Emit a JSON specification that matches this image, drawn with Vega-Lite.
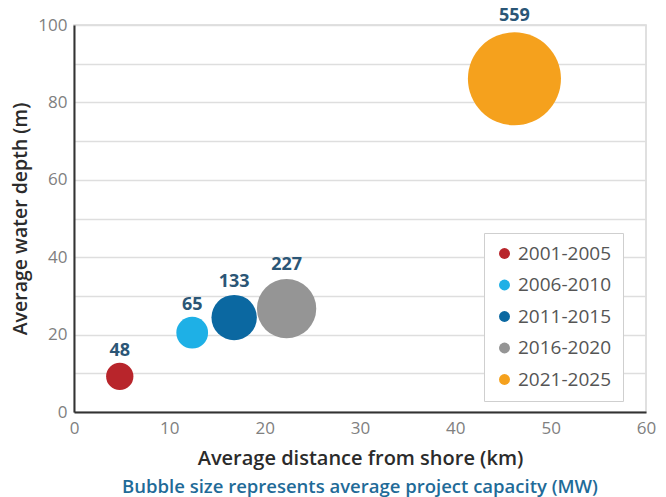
{
  "$schema": "https://vega.github.io/schema/vega-lite/v6.json",
  "width": 572,
  "height": 387,
  "autosize": {"type": "none"},
  "padding": {"left": 74, "top": 25, "right": 20, "bottom": 85},
  "background": "white",
  "config": {
    "font": "Open Sans",
    "view": {"stroke": "#d6d6d6", "strokeWidth": 1.5}
  },
  "title": {
    "text": "Bubble size represents average project capacity (MW)",
    "orient": "bottom",
    "anchor": "middle",
    "color": "#1f6b98",
    "fontSize": 18.5,
    "fontWeight": 600,
    "offset": 10
  },
  "data": {
    "values": [
      {"period": "2001-2005", "distance": 4.8, "depth": 9.2, "capacity": 48},
      {"period": "2006-2010", "distance": 12.4, "depth": 20.5, "capacity": 65},
      {"period": "2011-2015", "distance": 16.8, "depth": 24.4, "capacity": 133},
      {"period": "2016-2020", "distance": 22.3, "depth": 26.7, "capacity": 227},
      {"period": "2021-2025", "distance": 46.2, "depth": 86.1, "capacity": 559}
    ]
  },
  "encoding": {
    "x": {
      "field": "distance",
      "type": "quantitative",
      "scale": {"domain": [0, 60], "nice": false},
      "axis": {
        "values": [0, 10, 20, 30, 40, 50, 60],
        "title": "Average distance from shore (km)",
        "grid": false,
        "ticks": false,
        "labelFlush": false,
        "domainColor": "#333333",
        "domainWidth": 2,
        "labelFontSize": 17,
        "labelColor": "#808080",
        "labelPadding": 8,
        "titleFontSize": 20,
        "titleFontWeight": 600,
        "titleColor": "#2b2b2b",
        "titlePadding": 12
      }
    },
    "y": {
      "field": "depth",
      "type": "quantitative",
      "scale": {"domain": [0, 100], "nice": false},
      "axis": {
        "values": [0, 10, 20, 30, 40, 50, 60, 70, 80, 90, 100],
        "labelExpr": "datum.value % 20 == 0 ? datum.label : ''",
        "title": "Average water depth (m)",
        "grid": true,
        "gridColor": "#dedede",
        "gridWidth": 1.5,
        "ticks": false,
        "domainColor": "#333333",
        "domainWidth": 2,
        "labelFontSize": 17,
        "labelColor": "#808080",
        "labelPadding": 7,
        "titleFontSize": 19.5,
        "titleFontWeight": 600,
        "titleColor": "#2b2b2b",
        "titlePadding": 7
      }
    }
  },
  "layer": [
    {
      "mark": {"type": "circle", "opacity": 1},
      "encoding": {
        "size": {
          "field": "capacity",
          "type": "quantitative",
          "scale": {"domain": [0, 559], "range": [0, 8660], "zero": true},
          "legend": null
        },
        "color": {
          "field": "period",
          "type": "nominal",
          "scale": {
            "domain": ["2001-2005", "2006-2010", "2011-2015", "2016-2020", "2021-2025"],
            "range": ["#b8252b", "#1eb0e6", "#0b68a1", "#959595", "#f5a11d"]
          },
          "legend": {
            "title": null,
            "orient": "none",
            "legendX": 410,
            "legendY": 208,
            "padding": 11,
            "rowPadding": 11.5,
            "symbolType": "circle",
            "symbolSize": 120,
            "symbolStrokeWidth": 0,
            "labelOffset": 4,
            "labelFontSize": 19,
            "labelColor": "#555555",
            "fillColor": "white",
            "strokeColor": "#cfcfcf",
            "cornerRadius": 0
          }
        }
      }
    },
    {
      "mark": {
        "type": "text",
        "fontSize": 18,
        "fontWeight": "bold",
        "color": "#2b5676",
        "baseline": "middle",
        "dy": {"expr": "-sqrt(datum.capacity * 8660 / 559 / PI) - 10"}
      },
      "encoding": {
        "text": {"field": "capacity", "type": "quantitative"}
      }
    }
  ]
}
